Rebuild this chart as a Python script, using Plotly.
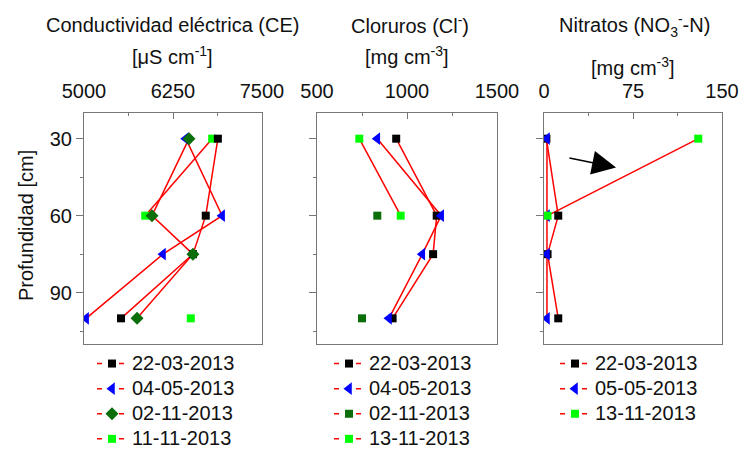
import plotly.graph_objects as go

# ---------------- data ----------------
depth = [30, 60, 75, 100]

ce_dates = ["22-03-2013", "04-05-2013", "02-11-2013", "11-11-2013"]
ce_2203 = [6880, 6710, 6530, 5520]
ce_0405 = [6430, 6940, 6110, 5030]
ce_0211 = [6475, 5955, 6530, 5745]
ce_1111 = [6800, 5860, None, 6500]

cl_dates = ["22-03-2013", "04-05-2013", "02-11-2013", "13-11-2013"]
cl_2203 = [940, 1165, 1145, 920]
cl_0405 = [835, 1190, 1085, 900]
cl_0211 = [None, 835, None, 750]
cl_1311 = [735, 965, None, None]

no3_dates = ["22-03-2013", "05-05-2013", "13-11-2013"]
no3_2203 = [2, 12, 3, 12]
no3_0505 = [2.5, 2.5, 2.5, 2.5]
no3_1311 = [130, 3, None, None]

ce_ticks = [5000, 6250, 7500]
cl_ticks = [500, 1000, 1500]
no3_ticks = [0, 75, 150]
depth_ticks = [30, 60, 90]

# ---------------- styles ----------------
FONT = "Liberation Sans, Arial, sans-serif"
RED = "#ff0000"
BLACK = "#000000"
BLUE = "#0000ff"
DGREEN = "#0a6e0a"
LGREEN = "#00ff00"
AXC = "#777777"
TXT = "#111111"
W, H = 742, 451

fig = go.Figure()

def axes_of(n):
    return ("x" if n == 1 else f"x{n}"), ("y" if n == 1 else f"y{n}")

def add_lines(xs, n):
    xa, ya = axes_of(n)
    fig.add_trace(go.Scatter(x=xs, y=depth, mode="lines", xaxis=xa, yaxis=ya,
                             line=dict(color=RED, width=1.5), showlegend=False,
                             connectgaps=False, hoverinfo="skip"))

def add_markers(xs, color, symbol, size, n):
    xa, ya = axes_of(n)
    fig.add_trace(go.Scatter(x=xs, y=depth, mode="markers", xaxis=xa, yaxis=ya,
                             marker=dict(color=color, symbol=symbol, size=size,
                                         line=dict(width=0)),
                             showlegend=False))

def add_legend(name, color, symbol, size, n):
    xa, ya = axes_of(n)
    lg = "legend" if n == 1 else f"legend{n}"
    fig.add_trace(go.Scatter(x=[None], y=[None], mode="lines+markers", xaxis=xa, yaxis=ya,
                             name=f"<span style='font-size:20px'>{name}</span>", legend=lg,
                             line=dict(color=RED, width=1.5, dash="5px,6px"),
                             marker=dict(color=color, symbol=symbol, size=size, line=dict(width=0))))

# panel 1
p1 = [(ce_1111, LGREEN, "square", 8), (ce_2203, BLACK, "square", 8),
      (ce_0405, BLUE, "triangle-left", 11), (ce_0211, DGREEN, "diamond", 10)]
for xs, c, s, z in p1:
    add_lines(xs, 1)
for xs, c, s, z in p1:
    add_markers(xs, c, s, z, 1)
for name, (xs, c, s, z) in zip(ce_dates, [p1[1], p1[2], p1[3], p1[0]]):
    add_legend(name, c, s, z, 1)

# panel 2
p2 = [(cl_1311, LGREEN, "square", 8), (cl_0211, DGREEN, "square", 8),
      (cl_2203, BLACK, "square", 8), (cl_0405, BLUE, "triangle-left", 11)]
for xs, c, s, z in p2:
    add_lines(xs, 2)
for xs, c, s, z in p2:
    add_markers(xs, c, s, z, 2)
for name, (xs, c, s, z) in zip(cl_dates, [p2[2], p2[3], p2[1], p2[0]]):
    add_legend(name, c, s, z, 2)

# panel 3
p3 = [(no3_2203, BLACK, "square", 8), (no3_0505, BLUE, "triangle-left", 11),
      (no3_1311, LGREEN, "square", 8)]
for xs, c, s, z in p3:
    add_lines(xs, 3)
for xs, c, s, z in p3:
    add_markers(xs, c, s, z, 3)
for name, (xs, c, s, z) in zip(no3_dates, p3):
    add_legend(name, c, s, z, 3)

# ---------------- layout ----------------
ydom = [1 - 344 / H, 1 - 113 / H]
doms = [[84 / W, 262 / W], [317 / W, 497 / W], [544 / W, 722 / W]]
xranges = [[5000, 7500], [500, 1500], [0, 150]]
xtickv = [ce_ticks, cl_ticks, no3_ticks]
xminor = [[5625, 6875], [750, 1250], [37.5, 112.5]]

def xaxis_cfg(i):
    return dict(domain=doms[i], range=xranges[i], side="top",
                anchor="y" if i == 0 else f"y{i+1}", automargin=False,
                tickvals=xtickv[i], ticks="inside", ticklen=6, tickwidth=1,
                ticklabelstandoff=6,
                tickcolor=AXC, showline=True, linecolor=AXC, linewidth=1.2, mirror=True,
                showgrid=False, zeroline=False,
                tickfont=dict(family=FONT, size=20, color=TXT),
                minor=dict(tickvals=xminor[i], ticks="inside", ticklen=3, tickcolor=AXC))

def yaxis_cfg(i):
    return dict(domain=ydom, range=[110, 20], anchor="x" if i == 0 else f"x{i+1}",
                automargin=False,
                tickvals=depth_ticks, ticks="outside", ticklen=7, tickwidth=1, tickcolor=AXC,
                showline=True, linecolor=AXC, linewidth=1.2, mirror=True,
                showgrid=False, zeroline=False, showticklabels=(i == 0),
                tickfont=dict(family=FONT, size=20, color=TXT),
                minor=dict(tickvals=[45, 75, 105], ticks="outside", ticklen=3, tickcolor=AXC))

legend_common = dict(font=dict(family=FONT, size=17, color=TXT), bgcolor="rgba(0,0,0,0)",
                     xanchor="left", yanchor="top", tracegroupgap=0, itemwidth=30)

fig.update_layout(
    template="none",
    width=W, height=H, margin=dict(l=0, r=0, t=0, b=0, autoexpand=False),
    paper_bgcolor="white", plot_bgcolor="white",
    font=dict(family=FONT, size=20, color=TXT),
    xaxis=xaxis_cfg(0), xaxis2=xaxis_cfg(1), xaxis3=xaxis_cfg(2),
    yaxis=yaxis_cfg(0), yaxis2=yaxis_cfg(1), yaxis3=yaxis_cfg(2),
    legend=dict(x=92 / W, y=1 - 346 / H, **legend_common),
    legend2=dict(x=329 / W, y=1 - 346 / H, **legend_common),
    legend3=dict(x=555 / W, y=1 - 346 / H, **legend_common),
)

def txt(x, y, s, angle=0):
    fig.add_annotation(x=x / W, y=1 - y / H, xref="paper", yref="paper", text=s,
                       xanchor="center", yanchor="middle",
                       showarrow=False, textangle=angle,
                       font=dict(family=FONT, size=20, color=TXT))

txt(172, 25, "Conductividad eléctrica (CE)")
txt(172, 56, "[μS cm<sup>-1</sup>]")
txt(410, 25, "Cloruros (Cl<sup>-</sup>)")
txt(407, 56, "[mg cm<sup>-3</sup>]")
txt(634, 26, "Nitratos (NO<sub>3</sub><sup>-</sup>-N)")
txt(633, 66, "[mg cm<sup>-3</sup>]")
txt(26, 226, "Profundidad [cm]", angle=-90)

# arrow in nitrate panel
fig.add_annotation(x=60.7, y=41.2, ax=20.2, ay=37.4, xref="x3", yref="y3", axref="x3", ayref="y3",
                   showarrow=True, arrowhead=2, arrowsize=3, arrowwidth=1.6, arrowcolor="#000000",
                   text="")

fig.write_html("out.html", config={"displayModeBar": False},
               post_script="document.body.style.margin='0px';document.body.style.overflow='hidden';")
